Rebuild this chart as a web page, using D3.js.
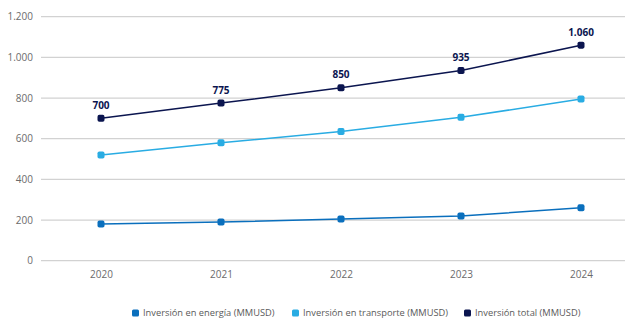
<!DOCTYPE html>
<html>
<head>
<meta charset="utf-8">
<script src="https://cdn.jsdelivr.net/npm/d3@7/dist/d3.min.js"></script>
<style>
  html, body { margin: 0; padding: 0; background: #fff; }
  svg { display: block; font-family: "Open Sans", "Noto Sans", sans-serif; }
</style>
</head>
<body>
<svg id="chart" width="625" height="322"></svg>
<script>
// Años y series (MMUSD)
const years = ["2020", "2021", "2022", "2023", "2024"];
const energia = [180, 190, 205, 220, 260];
const transporte = [520, 580, 635, 705, 795];
const total = [700, 775, 850, 935, 1060];
const yTicks = [0, 200, 400, 600, 800, 1000, 1200];

const seriesNames = ["Inversión en energía (MMUSD)", "Inversión en transporte (MMUSD)", "Inversión total (MMUSD)"];
const seriesColors = ["#0a6fbd", "#29ace3", "#0b154f"];

const svg = d3.select("#chart");
const fmt = v => d3.format(",")(v).replace(/,/g, ".");

const x = d3.scalePoint().domain(years).range([101, 581]);
const y = d3.scaleLinear().domain([0, 1200]).range([260.7, 16.7]);

// Cuadrícula horizontal
svg.append("g")
  .selectAll("line")
  .data(yTicks)
  .join("line")
  .attr("x1", 41).attr("x2", 625)
  .attr("y1", d => y(d)).attr("y2", d => y(d))
  .attr("stroke", "#d2d2d2")
  .attr("stroke-width", 1.2);

// Eje Y
const yAxis = svg.append("g")
  .attr("transform", "translate(33,0)")
  .call(d3.axisLeft(y).tickValues(yTicks).tickSize(0).tickPadding(0).tickFormat(fmt));
yAxis.select(".domain").remove();
yAxis.selectAll("text")
  .attr("fill", "#6b6b6b")
  .style("font-size", "10px")
  .style("font-family", "'Open Sans', sans-serif");

// Eje X
const xAxis = svg.append("g")
  .attr("transform", "translate(0,271)")
  .call(d3.axisBottom(x).tickSize(0).tickPadding(0));
xAxis.select(".domain").remove();
xAxis.selectAll("text")
  .attr("fill", "#6b6b6b")
  .style("font-size", "10px")
  .style("font-family", "'Open Sans', sans-serif");

// Líneas y marcadores
const series = [energia, transporte, total];
const line = d3.line().x((d, i) => x(years[i])).y(d => y(d));
const m = 7;

series.forEach((vals, s) => {
  svg.append("path")
    .datum(vals)
    .attr("d", line)
    .attr("fill", "none")
    .attr("stroke", seriesColors[s])
    .attr("stroke-width", 1.5);

  svg.append("g")
    .selectAll("rect")
    .data(vals)
    .join("rect")
    .attr("x", (d, i) => x(years[i]) - m / 2)
    .attr("y", d => y(d) - m / 2)
    .attr("width", m).attr("height", m)
    .attr("rx", 1.8)
    .attr("fill", seriesColors[s]);
});

// Etiquetas de valor del total
svg.append("g")
  .selectAll("text")
  .data(total)
  .join("text")
  .attr("x", (d, i) => x(years[i]))
  .attr("y", d => y(d) - 9.5)
  .attr("text-anchor", "middle")
  .attr("fill", "#0b154f")
  .style("font-size", "10px")
  .style("font-weight", "bold")
  .text(d => fmt(d));

// Leyenda
const legendX = [132, 292, 464];
const legend = svg.append("g")
  .selectAll("g")
  .data(seriesNames)
  .join("g")
  .attr("transform", (d, i) => `translate(${legendX[i]},313)`);
legend.append("rect")
  .attr("x", 0).attr("y", -3.5)
  .attr("width", 7).attr("height", 7)
  .attr("rx", 1.5)
  .attr("fill", (d, i) => seriesColors[i]);
legend.append("text")
  .attr("x", 11)
  .attr("dy", "0.35em")
  .attr("fill", "#5a5a5a")
  .style("font-size", "9.3px")
  .text(d => d);
</script>
</body>
</html>
